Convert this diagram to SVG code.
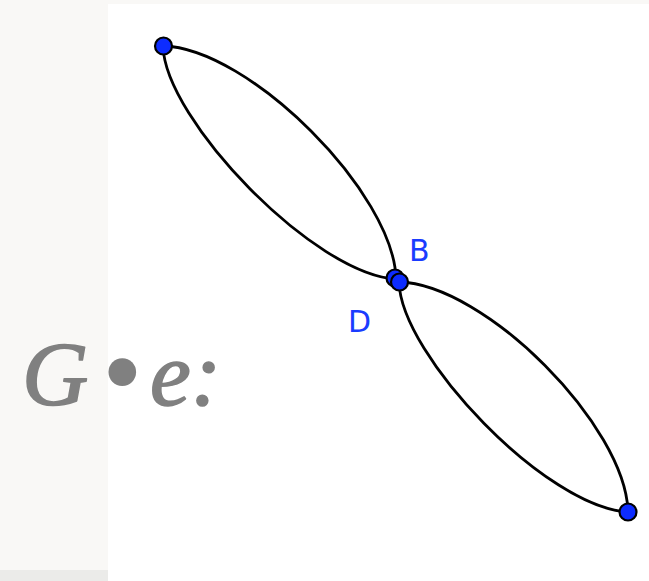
<svg xmlns="http://www.w3.org/2000/svg" width="649" height="581" viewBox="0 0 649 581">
<style>
.edge{fill:none;stroke:#000;stroke-width:2.8;stroke-linecap:round}
.pt{fill:#0d2cff;stroke:#000;stroke-width:2.2}
.lbl{font-family:"DejaVu Sans",sans-serif;fill:#1a3cff;font-size:30px}
.title{font-family:"Liberation Serif",serif;font-style:italic;fill:#808080;stroke:#808080;stroke-width:1.6;stroke-linejoin:round}
</style>
<rect x="0" y="0" width="649" height="581" fill="#fff"/>
<rect x="0" y="0" width="649" height="4" fill="#f9f8f6"/>
<rect x="0" y="0" width="108" height="581" fill="#f9f8f6"/>
<rect x="0" y="570" width="108" height="11" fill="#ebebe9"/>
<text class="title" x="22" y="405" font-size="92">G</text>
<text class="title" x="102" y="411" font-size="116" style="font-style:normal;stroke:none">•</text>
<text class="title" x="150" y="405" font-size="92">e:</text>
<g id="connectors">
<path class="edge" d="M163,46 C249,48 394,193 396,279"/>
<path class="edge" d="M163,46 C165,120 315,275 396,279"/>
<path class="edge" d="M399,282 C485,284 626,426 628,512"/>
<path class="edge" d="M399,282 C401,356 547,508 628,512"/>
</g>
<g id="node-A"><circle class="pt" cx="163.5" cy="46" r="8.5"/></g>
<g id="node-D"><circle class="pt" cx="395" cy="278" r="8.5"/><text class="lbl" x="348" y="332">D</text></g>
<g id="node-B"><circle class="pt" cx="399.5" cy="282" r="8.5"/><text class="lbl" x="409" y="261">B</text></g>
<g id="node-C"><circle class="pt" cx="628" cy="512" r="8.5"/></g>
</svg>
